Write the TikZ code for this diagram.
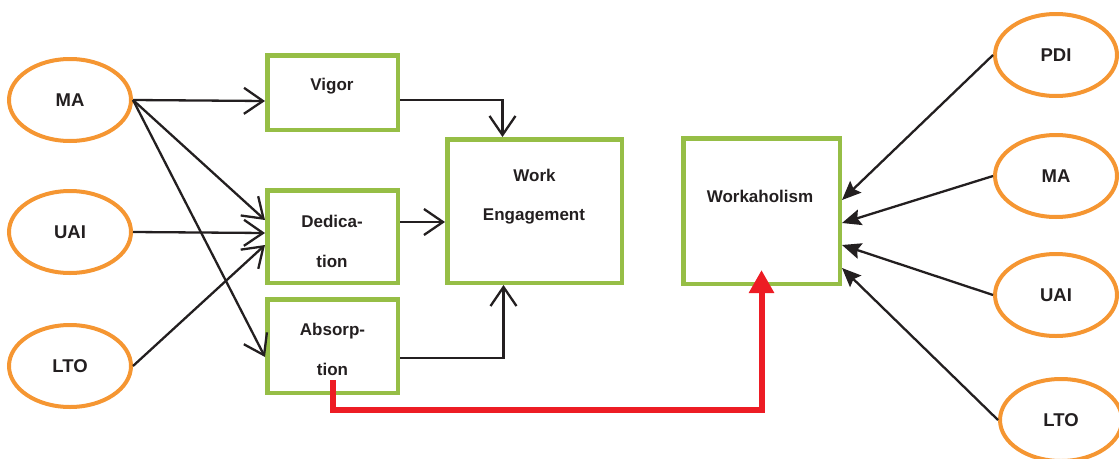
\documentclass[tikz,border=0pt]{standalone}
\usepackage{fontspec}
\setmainfont{Liberation Sans}
\usetikzlibrary{arrows.meta,shapes.geometric,calc}
\definecolor{boxgreen}{RGB}{150,190,70}
\definecolor{ovalorange}{RGB}{245,150,50}
\definecolor{txt}{RGB}{35,31,32}
\definecolor{redarrow}{RGB}{237,28,36}
\begin{document}
\begin{tikzpicture}[x=1pt,y=-1pt,
  oval/.style={ellipse, draw=ovalorange, line width=4pt, minimum width=122pt, minimum height=82pt, inner sep=0pt, text=txt, font=\fontsize{18.5}{22}\selectfont\bfseries},
  gbox/.style={rectangle, draw=boxgreen, line width=4.5pt, inner sep=0pt},
  lbl/.style={anchor=base, text=txt, inner sep=0pt, font=\fontsize{17}{20}\selectfont\bfseries},
  link/.style={draw=txt, line width=2.3pt, -{Straight Barb[length=19pt,width=26pt]}},
  rlink/.style={draw=txt, line width=2.3pt, -{Stealth[length=19pt,width=16pt,inset=3pt]}},
  redlink/.style={draw=redarrow, line width=6pt, line join=miter, -{Triangle[length=23pt,width=24pt]}}]
\useasboundingbox (0,0) rectangle (1119,458);

% ovals
\node[oval] (lma) at (70,100) {MA};
\node[oval] (luai) at (70,232) {UAI};
\node[oval] (llto) at (70,366) {LTO};
\node[oval] (rpdi) at (1056,55) {PDI};
\node[oval] (rma) at (1056,176) {MA};
\node[oval] (ruai) at (1056,295) {UAI};
\node[oval] (rlto) at (1061,420) {LTO};

% boxes
\node[gbox, minimum width=130.5pt, minimum height=74.5pt] (vigor) at (332.5,92.5) {};
\node[gbox, minimum width=130.5pt, minimum height=92.5pt] (ded) at (332.5,236.5) {};
\node[gbox, minimum width=130.5pt, minimum height=93.5pt] (abs) at (332.5,346) {};
\node[gbox, minimum width=174.5pt, minimum height=143.5pt] (we) at (534.5,211) {};
\node[gbox, minimum width=156.5pt, minimum height=145.5pt] (wh) at (761.5,211) {};

% box texts
\node[lbl] (vigor-t) at (332,90) {Vigor};
\node[lbl] (ded-t1) at (332,227) {Dedica-};
\node[lbl] (ded-t2) at (332,267) {tion};
\node[lbl] (abs-t1) at (332.5,335) {Absorp-};
\node[lbl] (abs-t2) at (332.5,375) {tion};
\node[lbl] (we-t1) at (534.5,181) {Work};
\node[lbl] (we-t2) at (534,220) {Engagement};
\node[lbl] (wh-t) at (760,202) {Workaholism};

% left connectors
\draw[link] (lma.east) -- ($(vigor.west)+(0,8.5)$);
\draw[link] (lma.east) -- ($(ded.west)+(0,-16.5)$);
\draw[link] (lma.east) -- ($(abs.west)+(0,11)$);
\draw[link] (luai.east) -- ($(ded.west)+(0,-3.5)$);
\draw[link] (llto.east) -- ($(ded.west)+(0,8.5)$);

% into work engagement
\draw[link] ($(vigor.east)+(0,7.5)$) -| ($(we.north)+(-32,0)$);
\draw[link] ($(ded.east)+(0,-14.5)$) -- ($(we.west)+(0,11)$);
\draw[link] ($(abs.east)+(0,12)$) -| ($(we.south)+(-31,0)$);

% right connectors
\draw[rlink] (rpdi.west) -- ($(wh.east)+(0,-11)$);
\draw[rlink] (rma.west) -- ($(wh.east)+(0,12)$);
\draw[rlink] (ruai.west) -- ($(wh.east)+(0,34)$);
\draw[rlink] (rlto.west) -- ($(wh.east)+(0,57)$);

% red connector
\coordinate (rs) at ($(abs.south)+(0.5,-15)$);
\coordinate (re) at ($(wh.south)+(0,-16)$);
\draw[redlink] (rs) -- ++(0,30) -| (re);
\end{tikzpicture}
\end{document}
